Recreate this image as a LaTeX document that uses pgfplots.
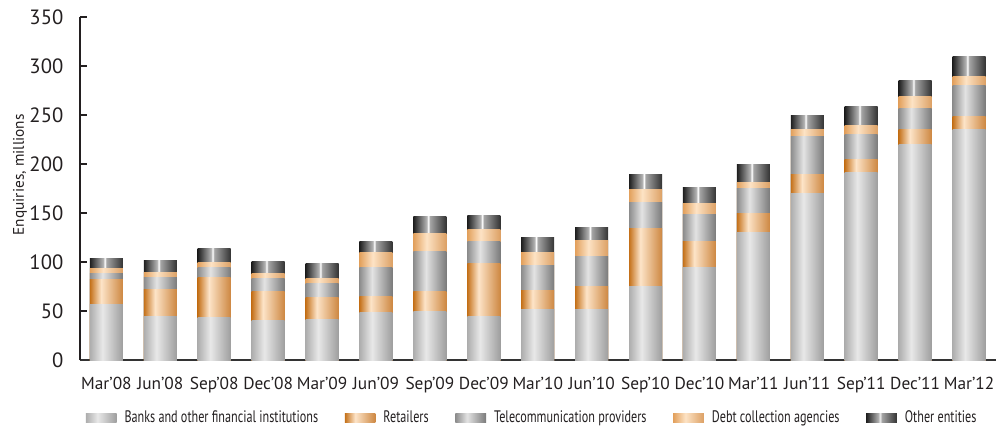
\documentclass[border=0pt]{standalone}
\usepackage{pgfplots}
\pgfplotsset{compat=1.18}
\usepackage{pgfplotstable}
\usepackage{fontspec}
\setmainfont{PT Sans}
\newfontfamily\narrowfont[FakeStretch=0.73]{PT Sans}

% cylinder-like horizontal shadings for each segment
\definecolor{axisdark}{HTML}{231F20}
\pgfdeclarehorizontalshading{banksshade}{100bp}{color(0bp)=(black!32); color(25bp)=(black!32); color(44bp)=(black!9); color(75bp)=(black!38); color(100bp)=(black!38)}
\pgfdeclarehorizontalshading{retailshade}{100bp}{color(0bp)=(rgb,255:red,196;green,113;blue,26); color(25bp)=(rgb,255:red,196;green,113;blue,26); color(42bp)=(rgb,255:red,253;green,228;blue,200); color(75bp)=(rgb,255:red,205;green,135;blue,65); color(100bp)=(rgb,255:red,205;green,135;blue,65)}
\pgfdeclarehorizontalshading{telecomshade}{100bp}{color(0bp)=(black!45); color(25bp)=(black!45); color(44bp)=(black!11); color(75bp)=(black!52); color(100bp)=(black!52)}
\pgfdeclarehorizontalshading{debtshade}{100bp}{color(0bp)=(rgb,255:red,226;green,160;blue,92); color(25bp)=(rgb,255:red,226;green,160;blue,92); color(45bp)=(rgb,255:red,253;green,227;blue,197); color(75bp)=(rgb,255:red,220;green,160;blue,100); color(100bp)=(rgb,255:red,220;green,160;blue,100)}
\pgfdeclarehorizontalshading{othershade}{100bp}{color(0bp)=(black!88); color(25bp)=(black!88); color(45bp)=(black!30); color(47.5bp)=(white); color(50bp)=(black!35); color(75bp)=(black!80); color(100bp)=(black!80)}

% enquiries by quarter, millions
\pgfplotstableread{
x banks retail telecom debt other
0 57.0 25.3 6.1 4.8 10.8
1 43.9 28.5 11.3 5.1 13.2
2 42.9 40.8 10.2 6.1 13.3
3 40.8 29.6 12.3 5.1 13.2
4 41.8 21.5 14.3 5.1 15.3
5 48.0 17.3 28.6 16.3 11.2
6 49.0 21.4 40.8 17.4 17.4
7 44.9 53.1 23.4 11.3 14.3
8 52.0 19.4 25.5 12.3 15.3
9 52.0 22.5 31.6 16.3 12.3
10 75.5 58.2 27.5 12.3 16.3
11 94.9 26.5 26.6 12.2 16.3
12 129.6 19.4 26.5 6.1 17.4
13 169.4 19.4 38.8 7.1 14.3
14 191.8 13.3 24.5 10.2 18.4
15 220.4 14.3 22.4 11.3 17.3
16 235.7 12.3 32.6 8.2 21.4
}\enquiries
% running totals: top edge of each segment
\pgfplotstablecreatecol[expr={\thisrow{banks}+\thisrow{retail}}]{cR}\enquiries
\pgfplotstablecreatecol[expr={\thisrow{cR}+\thisrow{telecom}}]{cT}\enquiries
\pgfplotstablecreatecol[expr={\thisrow{cT}+\thisrow{debt}}]{cD}\enquiries
\pgfplotstablecreatecol[expr={\thisrow{cD}+\thisrow{other}}]{cO}\enquiries

\begin{document}
\begin{tikzpicture}
\useasboundingbox (-60pt,-51.75pt) rectangle (687pt,270pt);
\begin{axis}[
  at={(0pt,0pt)}, anchor=south west,
  scale only axis,
  width=687pt, height=257.25pt,
  ybar, bar shift=0pt,
  bar width=24.75pt,
  xmin=-0.49, xmax=16.5,
  ymin=0, ymax=350,
  ytick={0,50,...,350},
  xtick={0,...,16},
  xticklabels={Mar'08,Jun'08,Sep'08,Dec'08,Mar'09,Jun'09,Sep'09,Dec'09,Mar'10,Jun'10,Sep'10,Dec'10,Mar'11,Jun'11,Sep'11,Dec'11,Mar'12},
  axis x line*=bottom,
  axis y line*=left,
  x axis line style={line width=2.2pt, draw=black!80, -},
  y axis line style={line width=1.6pt, draw=axisdark, -},
  major x tick style={draw=none},
  major y tick style={line width=1.4pt, draw=axisdark},
  tick align=inside,
  major tick length=5pt,
  /pgf/number format/assume math mode=true,
  yticklabel style={font=\fontsize{15.5}{16}\selectfont, text=axisdark, xshift=-9pt},
  xticklabel style={font=\fontsize{13}{14}\selectfont, text=axisdark, yshift=-9pt},
  ylabel={Enquiries, millions},
  ylabel style={font=\fontsize{11.5}{12}\selectfont, text=axisdark, at={(axis description cs:-0.0655,0.54)}, anchor=center},
  legend columns=5,
  legend style={draw=none, fill=none, at={(axis description cs:0.494,-0.169)}, anchor=center,
    font=\narrowfont\fontsize{12.5}{13}\selectfont, text=axisdark,
    /tikz/every odd column/.append style={column sep=4pt},
    /tikz/every even column/.append style={column sep=18pt}},
  legend image code/.code={\path[#1, draw=none] (0pt,-3.6pt) rectangle (23pt,3.6pt);},
]
\addlegendimage{shade, shading=banksshade}
\addlegendentry{Banks and other financial institutions}
\addlegendimage{shade, shading=retailshade}
\addlegendentry{Retailers}
\addlegendimage{shade, shading=telecomshade}
\addlegendentry{Telecommunication providers}
\addlegendimage{shade, shading=debtshade}
\addlegendentry{Debt collection agencies}
\addlegendimage{shade, shading=othershade}
\addlegendentry{Other entities}
% one bar at a time, tallest total first so each lower segment sits in front
\pgfplotsinvokeforeach{0,...,16}{
  \addplot[forget plot, draw=none, shade, shading=othershade, restrict x to domain=#1:#1] table[x=x, y=cO] {\enquiries};
  \addplot[forget plot, draw=none, shade, shading=debtshade, restrict x to domain=#1:#1] table[x=x, y=cD] {\enquiries};
  \addplot[forget plot, draw=none, shade, shading=telecomshade, restrict x to domain=#1:#1] table[x=x, y=cT] {\enquiries};
  \addplot[forget plot, draw=none, shade, shading=retailshade, restrict x to domain=#1:#1] table[x=x, y=cR] {\enquiries};
  \addplot[forget plot, draw=none, shade, shading=banksshade, restrict x to domain=#1:#1] table[x=x, y=banks] {\enquiries};
}
\end{axis}
\end{tikzpicture}
\end{document}
